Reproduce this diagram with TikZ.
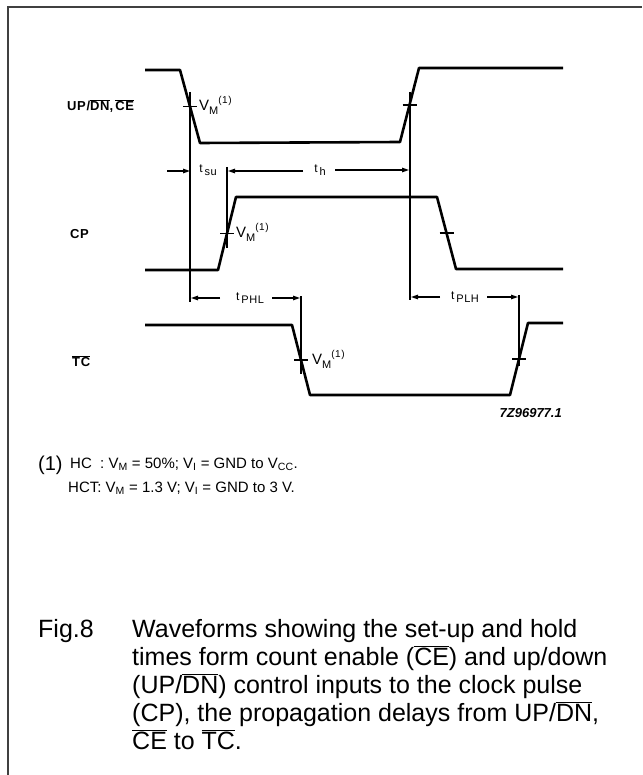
\documentclass[tikz,border=0pt]{standalone}
\usepackage{fontspec}
\setmainfont{Liberation Sans}
\newfontfamily\wavefont[LetterSpace=5]{Liberation Sans}
\usetikzlibrary{calc,arrows.meta}
\newcommand{\ovl}[1]{\ensuremath{\overline{\mbox{#1}}}}
\newcommand{\lsub}[1]{\raisebox{-0.5ex}{\fontsize{11}{12}\selectfont #1}}
\newcommand{\lsup}[1]{\raisebox{0.9ex}{\fontsize{10}{11}\selectfont #1}}
\newcommand{\defineWaveCoordinates}{
    % UP/DN, CE
    \coordinate (u0) at (145,70);
    \coordinate (u1) at (180,70);
    \coordinate (u2) at (200,143);   % falling edge
    \coordinate (u3) at (400,142);
    \coordinate (u4) at (419,68);    % rising edge
    \coordinate (u5) at (563,68);
    % CP
    \coordinate (c0) at (145,270);
    \coordinate (c1) at (218,270);
    \coordinate (c2) at (236,197);   % rising edge
    \coordinate (c3) at (437,197);
    \coordinate (c4) at (456,269);   % falling edge
    \coordinate (c5) at (563,269);
    % TC
    \coordinate (t0) at (145,325);
    \coordinate (t1) at (292,325);
    \coordinate (t2) at (310,395);   % falling edge
    \coordinate (t3) at (510,395);
    \coordinate (t4) at (528,323);   % rising edge
    \coordinate (t5) at (563,323);
    % V_M points
    \coordinate (mu1) at ($(u1)!0.5!(u2)$);
    \coordinate (mu2) at ($(u3)!0.5!(u4)$);
    \coordinate (mc1) at ($(c1)!0.5!(c2)$);
    \coordinate (mc2) at ($(c3)!0.5!(c4)$);
    \coordinate (mt1) at ($(t1)!0.5!(t2)$);
    \coordinate (mt2) at ($(t3)!0.5!(t4)$);
}

\begin{document}
\begin{tikzpicture}[
    x=1pt, y=-1pt,
    % lines
    wave/.style={line width=2.6pt, line join=round},
    ref line/.style={line width=1.2pt},
    tick mark/.style={line width=1.6pt},
    dim arrow/.style={line width=1.2pt, -{Triangle[length=7pt,width=4.5pt]}},
    frame line/.style={line width=1.6pt, black!75},
    % texts
    sig label/.style={anchor=west, inner sep=0pt, font=\wavefont\bfseries\fontsize{13}{15}\selectfont},
    vm label/.style={anchor=west, inner sep=0pt, font=\wavefont\fontsize{15}{17}\selectfont},
    dim label/.style={inner sep=0pt, font=\wavefont\fontsize{12}{14}\selectfont},
    note text/.style={anchor=base west, inner sep=0pt, font=\fontsize{15}{18}\selectfont},
    cap text/.style={anchor=base west, inner sep=0pt, font=\fontsize{25}{28}\selectfont}
]
\useasboundingbox (0,0) rectangle (642,775);

\defineWaveCoordinates

% frame (top and left)
\coordinate (fb) at (8,775);
\coordinate (fc) at (8,7);
\coordinate (fr) at (642,7);
\draw[frame line] (fb) -- (fc) -- (fr);

% reference lines
\coordinate (r1a) at (190,92);  \coordinate (r1b) at (190,302);
\coordinate (r2a) at (410,92);  \coordinate (r2b) at (410,300);
\coordinate (r3a) at (227,167); \coordinate (r3b) at (227,248);
\coordinate (r4a) at (301,296); \coordinate (r4b) at (301,374);
\coordinate (r5a) at (519,295); \coordinate (r5b) at (519,366);
\foreach \r in {1,...,5} {
    \draw[ref line] (r\r a) -- (r\r b);
}

% waveforms
\draw[wave] (u0) -- (u1) -- (u2) -- (u3) -- (u4) -- (u5);
\draw[wave] (c0) -- (c1) -- (c2) -- (c3) -- (c4) -- (c5);
\draw[wave] (t0) -- (t1) -- (t2) -- (t3) -- (t4) -- (t5);

% V_M ticks
\foreach \m in {mu1,mu2,mc1,mc2,mt1,mt2} {
    \draw[tick mark] ([xshift=-7pt]\m) -- ([xshift=7pt]\m);
}

% signal names
\node[sig label] (lupdn) at (67,106) {UP/\ovl{DN},\,\ovl{CE}};
\node[sig label] (lcp) at (70,234) {CP};
\node[sig label] (ltc) at (72,361) {\ovl{TC}};

% V_M labels
\node[vm label] (vm1) at (199,105) {V\lsub{M}\lsup{(1)}};
\node[vm label] (vm2) at (236,232) {V\lsub{M}\lsup{(1)}};
\node[vm label] (vm3) at (312,359) {V\lsub{M}\lsup{(1)}};

% set-up and hold
\node[dim label] (tsu) at (208,170) {t\,\lsub{su}};
\node[dim label] (th) at (320,170) {t\,\lsub{h}};
\coordinate (a1) at (167,171);
\coordinate (a2) at (303,171);
\coordinate (a3) at (335,170);
\draw[dim arrow] (a1) -- (r1a |- a1);
\draw[dim arrow] (a2) -- ([xshift=1pt]r3a |- a2);
\draw[dim arrow] (a3) -- ([xshift=-1pt]r2a |- a3);

% propagation delays
\node[dim label] (tphl) at (250,298) {t\,\lsub{PHL}};
\node[dim label] (tplh) at (465,297) {t\,\lsub{PLH}};
\coordinate (a4) at (220,298);
\coordinate (a5) at (272,298);
\coordinate (a6) at (440,297);
\coordinate (a7) at (487,297);
\draw[dim arrow] (a4) -- ([xshift=1pt]r1a |- a4);
\draw[dim arrow] (a5) -- ([xshift=-1pt]r4a |- a5);
\draw[dim arrow] (a6) -- ([xshift=1pt]r2a |- a6);
\draw[dim arrow] (a7) -- ([xshift=-1pt]r5a |- a7);

\node[anchor=east, inner sep=0pt, font=\bfseries\itshape\fontsize{13}{15}\selectfont] (fignum) at (562,413) {7Z96977.1};

% note
\node[note text, font=\fontsize{20}{22}\selectfont] (n0) at (38,470) {(1)};
\node[note text] (n1) at (70,468) {HC\ \ : V\textsubscript{M} = 50\%; V\textsubscript{I} = GND to V\textsubscript{CC}.};
\node[note text] (n2) at (68,492) {HCT: V\textsubscript{M} = 1.3 V; V\textsubscript{I} = GND to 3 V.};

% caption
\node[cap text] (fig) at (38,637) {Fig.8};
\node[cap text] (cap1) at (132,637) {Waveforms showing the set-up and hold};
\node[cap text] (cap2) at (132,665) {times form count enable (\ovl{CE}) and up/down};
\node[cap text] (cap3) at (132,693) {(UP/\ovl{DN}) control inputs to the clock pulse};
\node[cap text] (cap4) at (132,721) {(CP), the propagation delays from UP/\ovl{DN},};
\node[cap text] (cap5) at (132,749) {\ovl{CE} to \ovl{TC}.};

\end{tikzpicture}
\end{document}
